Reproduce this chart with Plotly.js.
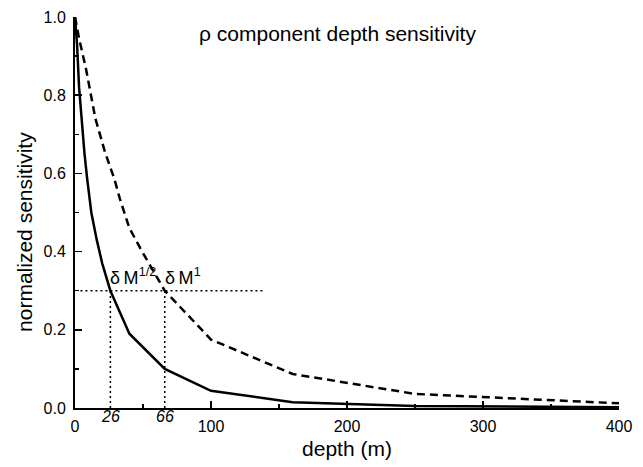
<!DOCTYPE html>
<html>
<head>
<meta charset="utf-8">
<script src="https://cdn.plot.ly/plotly-3.0.1.min.js"></script>
<style>html,body{margin:0;padding:0;background:#fff;}#chart{width:643px;height:467px;}</style>
</head>
<body>
<div id="chart"></div>
<script>
// depth sensitivity curves
const depthHalf = [0, 1.5, 3, 5, 7, 9, 12, 16, 20, 26, 40, 66, 100, 160, 250, 400];
const sensHalf  = [1.0, 0.93, 0.82, 0.73, 0.65, 0.585, 0.5, 0.43, 0.37, 0.30, 0.19, 0.10, 0.044, 0.015, 0.005, 0.002];
const depthOne  = [0, 3, 8, 15, 22, 29, 33, 40, 50, 66, 100, 160, 250, 400];
const sensOne   = [1.0, 0.945, 0.869, 0.74, 0.655, 0.585, 0.535, 0.46, 0.396, 0.30, 0.175, 0.087, 0.036, 0.012];
// reference level and the depths where each curve crosses it
const refLevel = 0.3;
const refDepths = [26, 66];
const refLabels = ['26', '66'];
const curveLabels = ['δ\u2009M<sup>1/2</sup>', 'δ\u2009M<sup>1</sup>'];
const refLineStart = 4, refLineEnd = 138;
const xTicks = [0, 100, 200, 300, 400];
const yTicks = [0, 0.2, 0.4, 0.6, 0.8, 1.0];

const FONT = 'Liberation Sans, Arial, Helvetica, sans-serif';

const traces = [
  {x: depthHalf, y: sensHalf, mode: 'lines', line: {color: '#000', width: 2.5}, name: 'δM1/2', hoverinfo: 'skip'},
  {x: depthOne, y: sensOne, mode: 'lines', line: {color: '#000', width: 2.5, dash: '8px,5px'}, name: 'δM1', hoverinfo: 'skip'}
];

const shapes = [{
  type: 'line', xref: 'x', yref: 'y', x0: refLineStart, x1: refLineEnd, y0: refLevel, y1: refLevel,
  line: {color: '#000', width: 1.5, dash: '2px,3px'}
}];
refDepths.forEach(d => shapes.push({
  type: 'line', xref: 'x', yref: 'y', x0: d, x1: d, y0: 0, y1: refLevel,
  line: {color: '#000', width: 1.5, dash: '2px,3px'}
}));

const annotations = [];
refDepths.forEach((d, i) => {
  annotations.push({x: d, xref: 'x', y: 0, yref: 'paper', yanchor: 'top', xanchor: 'center', yshift: 2,
    text: '<i>' + refLabels[i] + '</i>', showarrow: false, font: {family: FONT, size: 16, color: '#000'}});
  annotations.push({x: d, xref: 'x', y: refLevel, yref: 'y', yanchor: 'bottom', xanchor: 'left', yshift: 1, xshift: -2,
    text: curveLabels[i], showarrow: false, font: {family: FONT, size: 18, color: '#000'}});
});
annotations.push({x: -0.094, xref: 'paper', y: 0.45, yref: 'paper', xanchor: 'center', yanchor: 'middle',
  textangle: -90, text: 'normalized sensitivity', showarrow: false, font: {family: FONT, size: 21, color: '#000'}});

const layout = {
  width: 643, height: 467,
  margin: {l: 75, r: 24, t: 17, b: 59},
  paper_bgcolor: '#fff', plot_bgcolor: '#fff',
  showlegend: false,
  font: {family: FONT, color: '#000'},
  title: {text: 'ρ component depth sensitivity', xref: 'paper', x: 0.4825, xanchor: 'center',
          yref: 'container', y: 0.929, yanchor: 'middle', font: {family: FONT, size: 21, color: '#000'}},
  xaxis: {
    range: [0, 400], showgrid: false, zeroline: false, showline: true, linecolor: '#000', linewidth: 2,
    ticks: 'inside', ticklen: 7, tickwidth: 1.5, tickcolor: '#000',
    tickvals: xTicks, ticktext: xTicks.map(String), ticklabelstandoff: 3,
    tickfont: {family: FONT, size: 16, color: '#000'},
    minor: {dtick: 50, ticks: 'inside', ticklen: 4, tickwidth: 1.5, tickcolor: '#000', showgrid: false},
    title: {text: 'depth (m)', font: {family: FONT, size: 21, color: '#000'}, standoff: 7}
  },
  yaxis: {
    range: [0, 1.0], showgrid: false, zeroline: false, showline: true, linecolor: '#000', linewidth: 2,
    ticks: 'inside', ticklen: 7, tickwidth: 1.5, tickcolor: '#000',
    tickvals: yTicks, ticktext: yTicks.map(v => v.toFixed(1)), ticklabelstandoff: 4,
    tickfont: {family: FONT, size: 16, color: '#000'},
    minor: {dtick: 0.1, ticks: 'inside', ticklen: 4, tickwidth: 1.5, tickcolor: '#000', showgrid: false}
  },
  shapes: shapes,
  annotations: annotations
};

Plotly.newPlot('chart', traces, layout, {displayModeBar: false, staticPlot: true});
</script>
</body>
</html>
